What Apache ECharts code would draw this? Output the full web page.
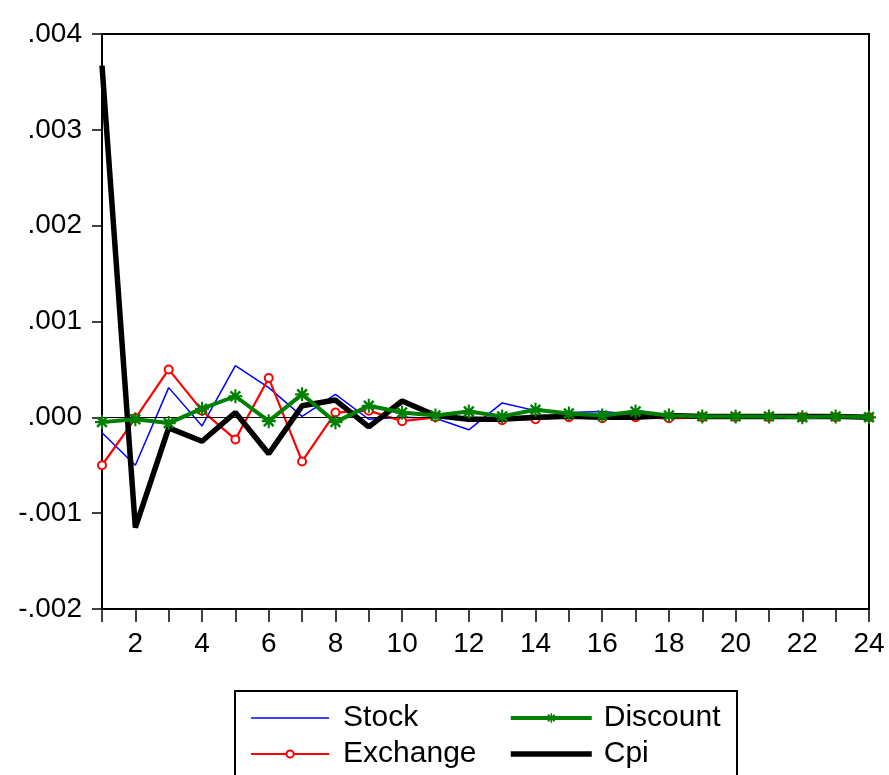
<!DOCTYPE html>
<html>
<head>
<meta charset="utf-8">
<script src="https://cdn.jsdelivr.net/npm/echarts@6/dist/echarts.min.js"></script>
<style>
html,body{margin:0;padding:0;background:#fff;}
#chart{width:889px;height:775px;}
</style>
</head>
<body>
<div id="chart"></div>
<script>
var categories = [1,2,3,4,5,6,7,8,9,10,11,12,13,14,15,16,17,18,19,20,21,22,23,24];
var stock = [-0.00016,-0.00050,0.00031,-0.00009,0.00054,0.00031,0.00001,0.00024,-0.00002,0.00000,-0.00001,-0.00013,0.00015,0.00007,0.00005,0.00006,0.00003,0.00002,0.00001,0.00000,0.00000,0.00001,0.00000,0.00000];
var exchange = [-0.00050,-0.00001,0.00050,0.00007,-0.00023,0.00041,-0.00046,0.00005,0.00007,-0.00004,0.00000,0.00000,-0.00003,-0.00002,0.00000,-0.00001,0.00000,-0.00001,0.00000,0.00000,0.00000,0.00000,0.00000,0.00000];
var discount = [-0.00005,-0.00002,-0.00006,0.00009,0.00022,-0.00004,0.00024,-0.00005,0.00012,0.00005,0.00002,0.00006,0.00001,0.00008,0.00004,0.00002,0.00006,0.00002,0.00001,0.00001,0.00001,0.00000,0.00001,0.00000];
var cpi = [0.00367,-0.00115,-0.00011,-0.00025,0.00005,-0.00038,0.00012,0.00018,-0.00010,0.00017,0.00002,-0.00002,-0.00002,0.00000,0.00001,0.00000,0.00000,0.00002,0.00001,0.00001,0.00001,0.00001,0.00001,0.00000];
var yTicks = ['-.002','-.001','.000','.001','.002','.003','.004'];

var star = 'path://M-1.5,-10L1.5,-10L1.5,10L-1.5,10Z M-10,-1.5L10,-1.5L10,1.5L-10,1.5Z M-5.7,-8.2L8.2,5.7L5.7,8.2L-8.2,-5.7Z M5.7,-8.2L8.2,-5.7L-5.7,8.2L-8.2,5.7Z';
var font = '"Liberation Sans", Arial, sans-serif';

var chart = echarts.init(document.getElementById('chart'));
chart.setOption({
  animation: false,
  backgroundColor: '#fff',
  grid: {left: 102, right: 20, top: 34, bottom: 166, show: true, borderColor: '#000', borderWidth: 2, backgroundColor: 'transparent'},
  xAxis: {
    type: 'category',
    data: categories,
    boundaryGap: false,
    axisLine: {onZero: false, lineStyle: {color: '#000', width: 2}},
    axisTick: {show: true, interval: 0, length: 13, inside: false, lineStyle: {color: '#000', width: 1.5}},
    axisLabel: {
      interval: function (i, v) { return Number(v) % 2 === 0; },
      color: '#000', fontSize: 28, fontFamily: font, margin: 21
    },
    splitLine: {show: false}
  },
  yAxis: {
    type: 'value',
    min: -0.002, max: 0.004, interval: 0.001,
    axisLine: {show: true, lineStyle: {color: '#000', width: 2}},
    axisTick: {show: true, length: 10, lineStyle: {color: '#000', width: 1.5}},
    axisLabel: {
      color: '#000', fontSize: 28, fontFamily: font, margin: 20,
      formatter: function (v) {
        var idx = Math.round(v / 0.001) + 2;
        return yTicks[idx];
      }
    },
    splitLine: {show: false}
  },
  legend: [
    {
      data: [
        {name: 'Stock', itemStyle: {opacity: 0}, lineStyle: {width: 1.5, color: '#0000ff'}},
        {name: 'Exchange', lineStyle: {width: 2.2, color: '#ff0000'}}
      ],
      orient: 'vertical',
      left: 250, top: 703, padding: 0,
      itemWidth: 78, itemHeight: 9, itemGap: 6,
      textStyle: {color: '#000', fontSize: 30, fontFamily: font, lineHeight: 30, padding: [0, 0, 0, 9]}
    },
    {
      data: [
        {name: 'Discount', lineStyle: {width: 4, color: '#008000'}},
        {name: 'Cpi', itemStyle: {opacity: 0}, lineStyle: {width: 5.5, color: '#000'}}
      ],
      orient: 'vertical',
      left: 508, top: 703, padding: 0,
      itemWidth: 81, itemHeight: 12, itemGap: 6,
      textStyle: {color: '#000', fontSize: 30, fontFamily: font, lineHeight: 30, padding: [0, 0, 0, 7]}
    }
  ],
  graphic: [{
    type: 'rect',
    shape: {x: 235, y: 691, width: 502, height: 120},
    style: {fill: 'none', stroke: '#000', lineWidth: 2},
    silent: true
  }],
  series: [
    {
      name: 'Stock', type: 'line', data: stock, symbol: 'none',
      lineStyle: {color: '#0000ff', width: 1.5}, itemStyle: {color: '#0000ff'},
      markLine: {
        silent: true, symbol: 'none', label: {show: false},
        lineStyle: {color: '#000', width: 1, type: 'solid'},
        data: [{yAxis: 0}]
      },
      z: 2
    },
    {
      name: 'Exchange', type: 'line', data: exchange, symbol: 'emptyCircle', symbolSize: 8, showAllSymbol: true,
      lineStyle: {color: '#ff0000', width: 2.2}, itemStyle: {color: '#ff0000', borderColor: '#ff0000', borderWidth: 1.5},
      z: 3
    },
    {
      name: 'Cpi', type: 'line', data: cpi, symbol: 'none',
      lineStyle: {color: '#000000', width: 5.5}, itemStyle: {color: '#000000'},
      z: 4
    },
    {
      name: 'Discount', type: 'line', data: discount, symbol: star, symbolSize: 14, showAllSymbol: true,
      lineStyle: {color: '#008000', width: 4}, itemStyle: {color: '#008000', borderWidth: 0},
      z: 5
    }
  ]
});
</script>
</body>
</html>
